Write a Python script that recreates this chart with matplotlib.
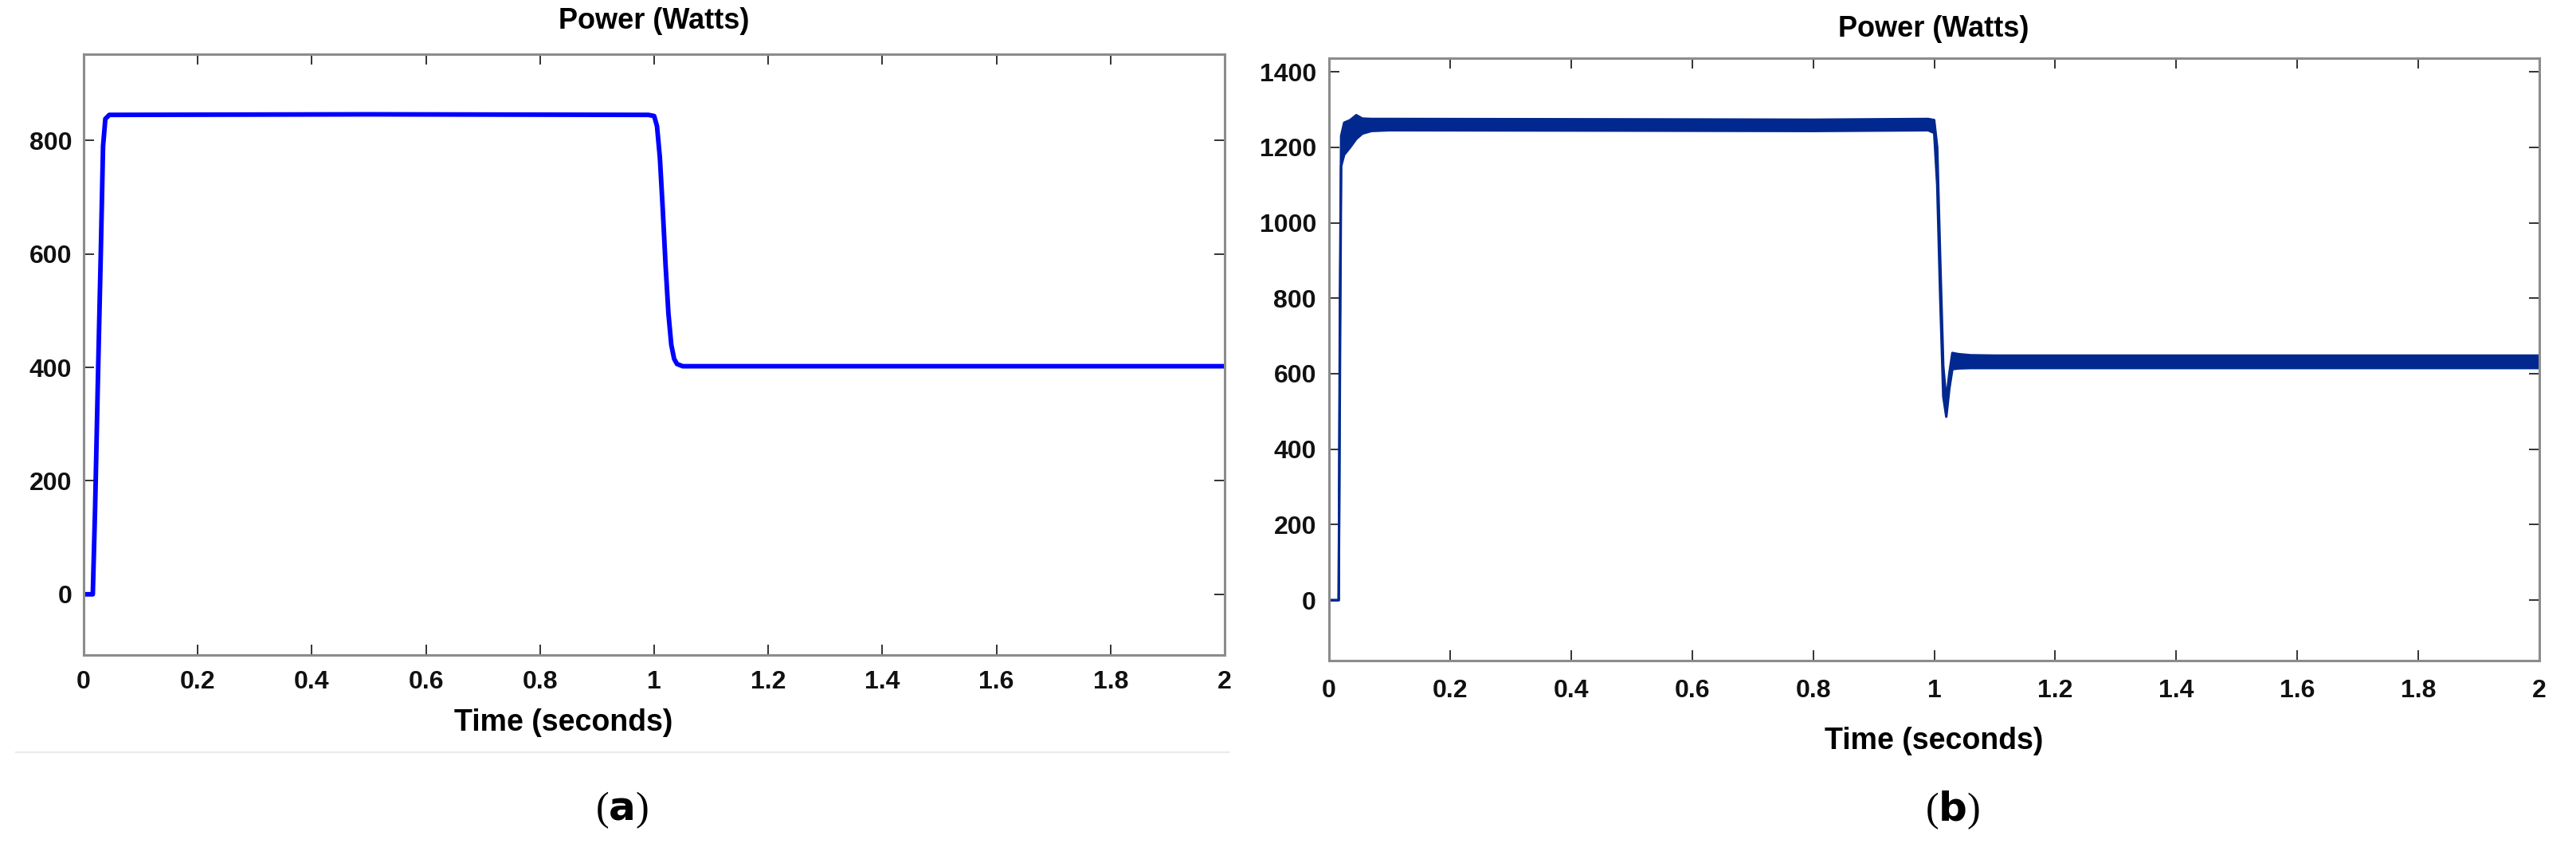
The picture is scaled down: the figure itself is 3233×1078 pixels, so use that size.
import matplotlib
matplotlib.use("Agg")
import matplotlib.pyplot as plt
from matplotlib.lines import Line2D

# (a) power response, single clean trace
t_a = [0, 0.016, 0.02, 0.025, 0.03, 0.034, 0.038, 0.045, 0.5, 0.99, 1.0, 1.005,
       1.01, 1.015, 1.02, 1.025, 1.03, 1.035, 1.04, 1.05, 2.0]
p_a = [0, 0, 150, 380, 600, 790, 838, 845, 846, 845, 843, 825,
       770, 680, 580, 495, 440, 415, 406, 402, 402]

# (b) power response, ripple band (upper / lower envelope)
t_b = [0, 0.016, 0.018, 0.02, 0.025, 0.035, 0.045, 0.055, 0.07, 0.1, 0.5, 0.8,
       0.99, 1.0, 1.005, 1.01, 1.015, 1.02, 1.025, 1.03, 1.04, 1.06, 1.1, 2.0]
p_b_upper = [0, 0, 800, 1230, 1265, 1272, 1285, 1276, 1275, 1275, 1274, 1273,
             1275, 1272, 1200, 900, 620, 530, 600, 655, 652, 649, 648, 648]
p_b_lower = [0, 0, 600, 1150, 1180, 1200, 1222, 1236, 1243, 1245, 1244, 1243,
             1245, 1238, 1100, 800, 540, 486, 560, 612, 614, 615, 615, 615]

x_ticks = [0, 0.2, 0.4, 0.6, 0.8, 1.0, 1.2, 1.4, 1.6, 1.8, 2.0]
x_labels = ["0", "0.2", "0.4", "0.6", "0.8", "1", "1.2", "1.4", "1.6", "1.8", "2"]
y_ticks_a = [0, 200, 400, 600, 800]
y_ticks_b = [0, 200, 400, 600, 800, 1000, 1200, 1400]

W, H = 3233, 1078
fig = plt.figure(figsize=(W / 100, H / 100), dpi=100)

sans = ["Liberation Sans", "DejaVu Sans"]
serif = ["Liberation Serif", "DejaVu Serif"]


def style_axes(ax, yticks, xpad, ypad):
    ax.set_xlim(0, 2)
    ax.set_xticks(x_ticks)
    ax.set_xticklabels(x_labels)
    ax.set_yticks(yticks)
    for s in ax.spines.values():
        s.set_color("#8c8c8c")
        s.set_linewidth(2.2)
    ax.tick_params(direction="in", length=9.5, width=1.4, color="#333333",
                   top=True, right=True, labelsize=23)
    ax.tick_params(axis="x", pad=xpad)
    ax.tick_params(axis="y", pad=ypad)
    for lab in ax.get_xticklabels() + ax.get_yticklabels():
        lab.set_fontfamily(sans)
        lab.set_fontweight("bold")
        lab.set_color("#111111")


def px(x, y):
    return x / W, 1 - y / H


# left panel
ax1 = fig.add_axes([105 / W, 1 - 822 / H, 1432 / W, 754 / H])
ax1.plot(t_a, p_a, color="#0000ff", linewidth=4.2, solid_joinstyle="round")
ax1.set_ylim(-107, 952)
style_axes(ax1, y_ticks_a, 14, 10.5)

# right panel
ax2 = fig.add_axes([1668 / W, 1 - 829 / H, 1519 / W, 756 / H])
ax2.fill_between(t_b, p_b_lower, p_b_upper, color="#00288f", linewidth=0)
ax2.plot(t_b, p_b_upper, color="#00288f", linewidth=2.2)
ax2.plot(t_b, p_b_lower, color="#00288f", linewidth=2.2)
ax2.set_ylim(-160, 1436)
style_axes(ax2, y_ticks_b, 16.5, 11.5)

# titles and axis labels
fig.text(*px(821, 26), "Power (Watts)", ha="center", va="center",
         fontsize=26, fontweight="bold", family=sans)
fig.text(*px(707, 907), "Time (seconds)", ha="center", va="center",
         fontsize=27, fontweight="bold", family=sans)
fig.text(*px(2427, 36), "Power (Watts)", ha="center", va="center",
         fontsize=26, fontweight="bold", family=sans)
fig.text(*px(2427, 930), "Time (seconds)", ha="center", va="center",
         fontsize=27, fontweight="bold", family=sans)

# separator under panel (a)
fig.add_artist(Line2D([20 / W, 1543 / W], [1 - 944 / H, 1 - 944 / H],
                      color="#ececec", linewidth=1.5))

# captions
fig.text(*px(780, 1017), r"($\mathbf{a}$)", ha="center", va="center",
         fontsize=36, family=serif)
fig.text(*px(2450, 1017), r"($\mathbf{b}$)", ha="center", va="center",
         fontsize=36, family=serif)

fig.savefig("out.png", dpi=100)
